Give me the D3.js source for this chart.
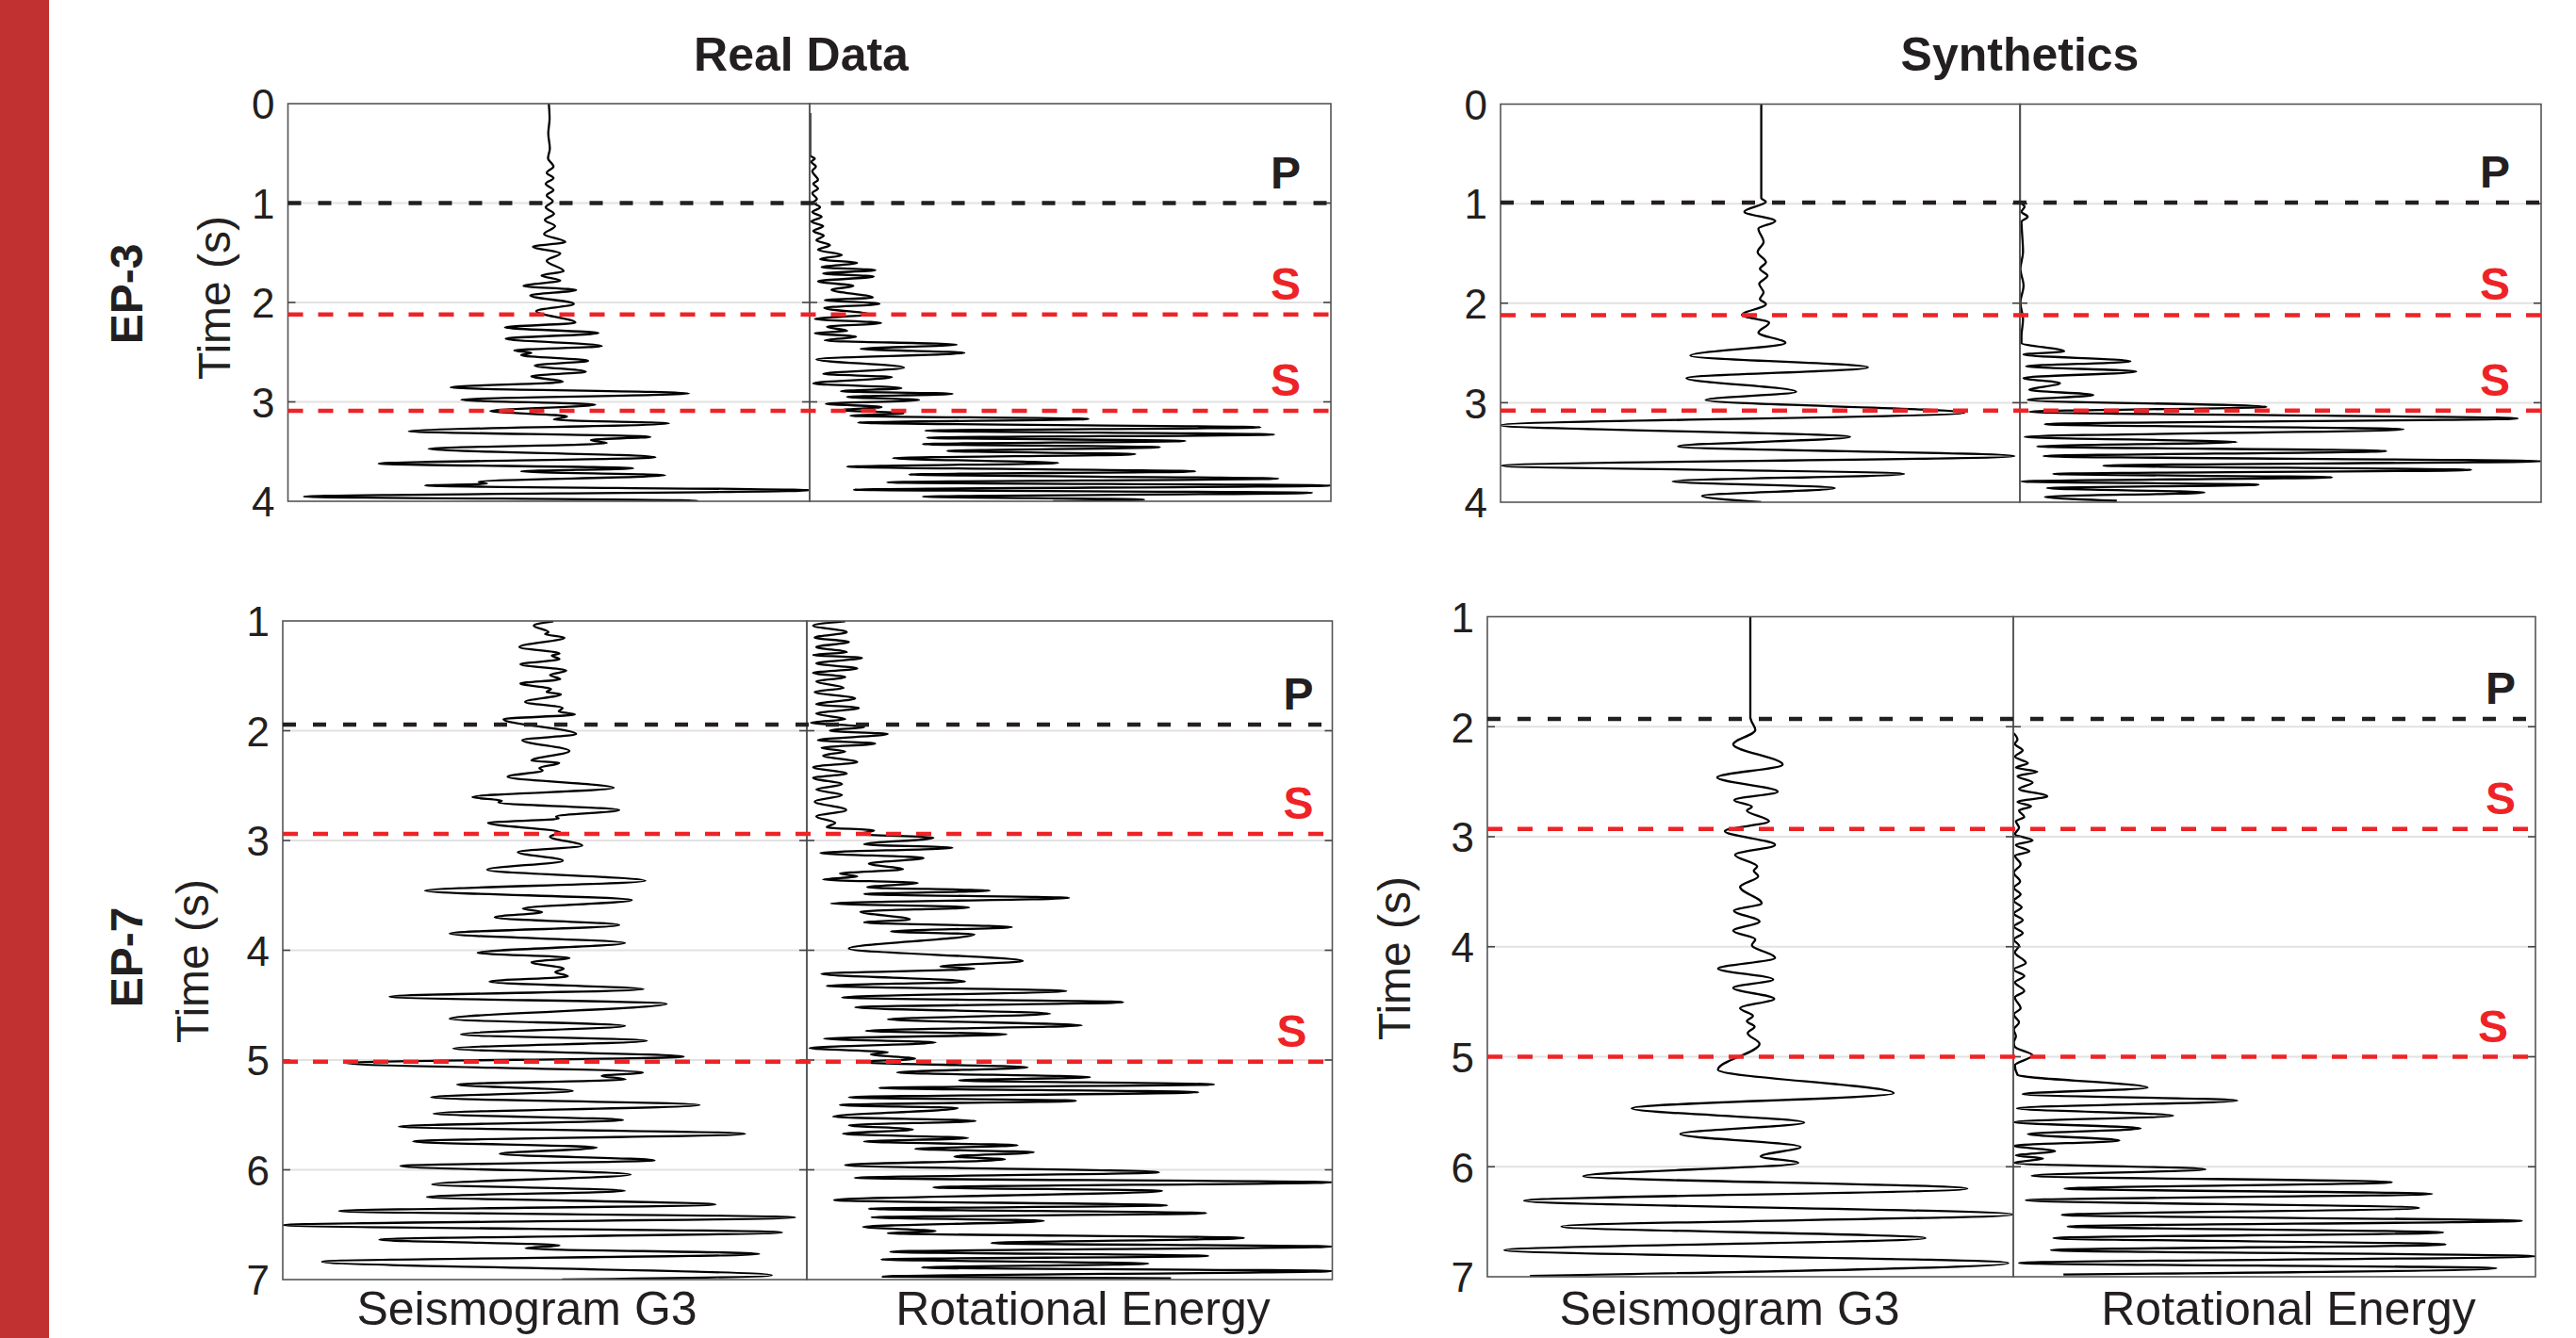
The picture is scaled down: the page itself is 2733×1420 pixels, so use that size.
<!DOCTYPE html>
<html><head><meta charset="utf-8">
<script src="https://cdn.jsdelivr.net/npm/d3@7"></script>
<style>
html,body{margin:0;padding:0;background:#fff;}
svg{display:block;font-family:"Liberation Sans",Arial,Helvetica,sans-serif;}
</style></head><body>
<svg id="chart" width="2733" height="1420"></svg>
<script>
// ---------------- DATA (time in s, amplitude normalised) ----------------
const columnTitles = ["Real Data", "Synthetics"];
const rowLabels = ["EP-3", "EP-7"];
const traceLabels = ["Seismogram G3", "Rotational Energy"];
const yAxisTitle = "Time (s)";
const ep3Ticks = [0, 1, 2, 3, 4];
const ep7Ticks = [1, 2, 3, 4, 5, 6, 7];

const ep3RealPhases = [{name:"P", t:1.0}, {name:"S", t:2.12}, {name:"S", t:3.09}];
const ep3SynthPhases = [{name:"P", t:0.99}, {name:"S", t:2.12}, {name:"S", t:3.08}];
const ep7RealPhases = [{name:"P", t:1.945}, {name:"S", t:2.94}, {name:"S", t:5.016}];
const ep7SynthPhases = [{name:"P", t:1.93}, {name:"S", t:2.93}, {name:"S", t:5.0}];

// seismogram amplitude: -1 .. 1 ; rotational energy: 0 .. 1
const ep3RealSeismogram = [[0,0],[0.15,0.003],[0.3,-0.002],[0.45,0.004],[0.55,-0.003],[0.632,0.018],[0.696,-0.008],[0.749,0.018],[0.806,-0.012],[0.870,0.018],[0.923,-0.008],[0.980,0.015],[1.043,-0.012],[1.107,0.020],[1.170,-0.015],[1.233,0.024],[1.312,-0.018],[1.391,0.063],[1.439,-0.061],[1.508,0.044],[1.581,-0.008],[1.685,0.057],[1.730,-0.028],[1.780,0.044],[1.834,-0.097],[1.875,0.105],[1.929,-0.071],[2.014,0.096],[2.087,-0.048],[2.204,0.102],[2.251,-0.168],[2.308,0.190],[2.365,-0.165],[2.438,0.203],[2.483,-0.132],[2.507,-0.067],[2.530,-0.106],[2.587,0.151],[2.634,-0.054],[2.697,0.142],[2.742,-0.067],[2.798,0.053],[2.855,-0.376],[2.915,0.537],[2.979,-0.335],[3.029,0.178],[3.092,-0.224],[3.146,0.070],[3.178,0.020],[3.216,0.461],[3.295,-0.537],[3.352,0.389],[3.383,0.161],[3.415,0.222],[3.472,-0.461],[3.557,0.409],[3.621,-0.652],[3.668,0.324],[3.700,-0.106],[3.738,0.446],[3.804,-0.269],[3.823,-0.237],[3.842,-0.474],[3.889,1.0],[3.953,-0.939],[3.994,0.570],[4.0,0.55]];
const ep3RealRotation = [[0.095,0.001],[0.522,0.001],[0.553,0.010],[0.585,0.003],[0.632,0.012],[0.680,0.005],[0.768,0.016],[0.806,0.007],[0.854,0.016],[0.901,0.005],[0.958,0.014],[0.996,0.007],[1.043,0.020],[1.091,0.005],[1.138,0.023],[1.186,0.003],[1.233,0.026],[1.281,0.007],[1.328,0.027],[1.375,0.013],[1.423,0.039],[1.470,0.016],[1.524,0.062],[1.565,0.020],[1.603,0.091],[1.644,0.023],[1.676,0.126],[1.708,0.026],[1.739,0.123],[1.787,0.016],[1.834,0.084],[1.872,0.042],[1.951,0.121],[1.976,0.029],[2.014,0.134],[2.055,0.028],[2.119,0.114],[2.166,0.010],[2.207,0.137],[2.245,0.033],[2.286,0.072],[2.308,0.010],[2.346,0.089],[2.381,0.029],[2.425,0.282],[2.466,0.098],[2.507,0.297],[2.571,0.013],[2.656,0.181],[2.719,0.026],[2.751,0.158],[2.814,0.007],[2.862,0.176],[2.893,0.060],[2.919,0.274],[2.950,0.072],[2.982,0.210],[3.020,0.031],[3.051,0.138],[3.083,0.062],[3.115,0.180],[3.140,0.078],[3.172,0.535],[3.209,0.093],[3.257,0.865],[3.289,0.222],[3.330,0.891],[3.361,0.225],[3.393,0.721],[3.425,0.217],[3.456,0.672],[3.494,0.264],[3.526,0.625],[3.567,0.160],[3.614,0.477],[3.652,0.072],[3.700,0.740],[3.731,0.191],[3.772,0.899],[3.810,0.149],[3.842,1.0],[3.883,0.085],[3.915,0.964],[3.953,0.217],[3.984,0.642],[4.0,0.467]];
const ep3SynthSeismogram = [[0,0.004],[0.946,0.004],[0.980,0.022],[1.081,-0.061],[1.176,0.058],[1.250,-0.007],[1.385,0.013],[1.486,-0.010],[1.588,0.022],[1.655,-0.001],[1.723,0.028],[1.807,-0.004],[1.892,0.013],[1.959,-0.001],[2.010,0.022],[2.118,-0.070],[2.196,0.034],[2.297,-0.007],[2.399,0.097],[2.527,-0.269],[2.645,0.415],[2.753,-0.284],[2.889,0.138],[2.973,-0.210],[3.101,0.786],[3.226,-1.0],[3.345,0.346],[3.439,-0.316],[3.537,0.979],[3.632,-0.994],[3.716,0.554],[3.791,-0.337],[3.858,0.287],[3.936,-0.224],[4.0,0.004]];
const ep3SynthRotation = [[0,0],[0.980,0],[1.030,0.009],[1.081,0.003],[1.132,0.015],[1.182,0.003],[1.284,0.004],[1.486,0.006],[1.655,0.001],[1.824,0.007],[1.993,0.001],[2.162,0.006],[2.331,0.003],[2.399,0.003],[2.483,0.085],[2.517,0.007],[2.584,0.212],[2.635,0.012],[2.686,0.223],[2.753,0.007],[2.804,0.077],[2.872,0.018],[2.922,0.141],[2.973,0.015],[3.041,0.473],[3.091,0.018],[3.159,0.955],[3.216,0.048],[3.267,0.736],[3.345,0.009],[3.395,0.416],[3.439,0.033],[3.486,0.703],[3.537,0.045],[3.588,1.0],[3.632,0.160],[3.676,0.866],[3.716,0.064],[3.750,0.599],[3.791,0.003],[3.824,0.458],[3.858,0.052],[3.902,0.354],[3.946,0.048],[3.986,0.186]];
const ep7RealSeismogram = [[1.004,0.033],[1.043,-0.042],[1.102,0.014],[1.121,0.001],[1.152,0.075],[1.238,-0.097],[1.297,0.056],[1.316,0.027],[1.348,0.056],[1.395,-0.093],[1.453,0.082],[1.492,0.020],[1.531,0.059],[1.570,-0.093],[1.621,0.024],[1.648,0.007],[1.668,0.062],[1.738,-0.075],[1.793,0.068],[1.824,0.053],[1.852,0.115],[1.895,-0.158],[2.031,0.120],[2.086,-0.086],[2.184,0.094],[2.273,-0.051],[2.293,0.055],[2.340,-0.021],[2.363,-0.008],[2.418,-0.142],[2.520,0.263],[2.605,-0.276],[2.637,-0.164],[2.652,-0.177],[2.723,0.284],[2.781,0.043],[2.801,0.053],[2.840,-0.217],[2.926,0.059],[2.965,0.020],[3.047,0.143],[3.105,-0.103],[3.184,0.069],[3.266,-0.220],[3.367,0.384],[3.457,-0.457],[3.543,0.332],[3.621,-0.084],[3.652,-0.010],[3.699,-0.191],[3.770,0.284],[3.848,-0.363],[3.934,0.306],[4.023,-0.256],[4.070,0.094],[4.109,-0.051],[4.168,0.072],[4.199,0.040],[4.238,0.088],[4.285,-0.211],[4.355,0.377],[4.422,-0.592],[4.488,0.465],[4.625,-0.363],[4.688,0.306],[4.766,-0.320],[4.824,0.390],[4.895,-0.350],[4.969,0.530],[5.027,-0.762],[5.113,0.374],[5.145,0.217],[5.176,0.308],[5.223,-0.334],[5.281,0.107],[5.340,-0.434],[5.410,0.591],[5.488,-0.425],[5.547,0.299],[5.605,-0.557],[5.672,0.764],[5.742,-0.502],[5.797,0.198],[5.855,-0.172],[5.914,0.419],[5.965,-0.551],[6.043,0.328],[6.133,-0.430],[6.191,0.306],[6.246,-0.450],[6.316,0.652],[6.375,-0.785],[6.434,0.955],[6.504,-1.0],[6.570,0.905],[6.637,-0.631],[6.688,0.056],[6.715,-0.073],[6.766,0.818],[6.836,-0.850],[6.961,0.866],[7.0,0.066]];
const ep7RealRotation = [[1.004,0.073],[1.043,0.012],[1.102,0.076],[1.152,0.015],[1.191,0.080],[1.238,0.018],[1.285,0.076],[1.309,0.012],[1.336,0.105],[1.387,0.018],[1.434,0.096],[1.473,0.012],[1.512,0.073],[1.551,0.018],[1.609,0.070],[1.648,0.015],[1.707,0.092],[1.758,0.018],[1.793,0.099],[1.844,0.018],[1.895,0.073],[1.926,0.008],[1.965,0.109],[2.0,0.044],[2.031,0.154],[2.086,0.021],[2.117,0.130],[2.156,0.028],[2.188,0.073],[2.227,0.031],[2.285,0.096],[2.332,0.012],[2.391,0.076],[2.430,0.012],[2.488,0.067],[2.535,0.018],[2.586,0.067],[2.645,0.015],[2.723,0.075],[2.781,0.018],[2.840,0.054],[2.879,0.038],[2.910,0.128],[2.941,0.099],[2.977,0.241],[3.035,0.109],[3.066,0.277],[3.113,0.026],[3.160,0.222],[3.211,0.118],[3.262,0.183],[3.301,0.063],[3.328,0.096],[3.355,0.031],[3.387,0.211],[3.426,0.115],[3.457,0.348],[3.488,0.109],[3.523,0.499],[3.574,0.046],[3.609,0.309],[3.648,0.102],[3.719,0.196],[3.746,0.109],[3.789,0.390],[3.828,0.160],[3.855,0.319],[3.984,0.080],[4.098,0.411],[4.148,0.254],[4.168,0.319],[4.215,0.028],[4.285,0.301],[4.324,0.038],[4.371,0.494],[4.430,0.067],[4.473,0.602],[4.520,0.092],[4.578,0.463],[4.629,0.154],[4.684,0.523],[4.734,0.112],[4.766,0.380],[4.805,0.033],[4.840,0.245],[4.891,0.005],[4.930,0.154],[4.949,0.122],[4.988,0.206],[5.020,0.099],[5.066,0.420],[5.113,0.172],[5.156,0.539],[5.184,0.290],[5.223,0.775],[5.254,0.138],[5.293,0.745],[5.340,0.080],[5.371,0.512],[5.410,0.063],[5.438,0.287],[5.516,0.050],[5.555,0.321],[5.594,0.080],[5.633,0.202],[5.672,0.069],[5.711,0.307],[5.742,0.109],[5.777,0.401],[5.809,0.206],[5.840,0.432],[5.879,0.281],[5.906,0.377],[5.957,0.073],[6.023,0.670],[6.074,0.091],[6.113,1.0],[6.160,0.241],[6.191,0.676],[6.277,0.052],[6.324,0.686],[6.355,0.118],[6.395,0.760],[6.434,0.123],[6.465,0.451],[6.520,0.107],[6.559,0.245],[6.578,0.154],[6.621,0.832],[6.668,0.351],[6.699,1.0],[6.746,0.159],[6.785,0.764],[6.816,0.142],[6.855,0.650],[6.891,0.219],[6.922,1.0],[6.973,0.144],[6.988,0.693]];
const ep7SynthSeismogram = [[1.0,0],[1.914,0],[1.941,0.003],[2.031,0.019],[2.160,-0.065],[2.344,0.123],[2.461,-0.126],[2.590,0.104],[2.668,-0.061],[2.727,0.006],[2.762,-0.013],[2.859,0.071],[2.949,-0.097],[3.074,0.094],[3.164,-0.058],[3.270,0.026],[3.309,0.013],[3.359,0.030],[3.457,-0.039],[3.605,0.043],[3.672,-0.062],[3.770,0.035],[3.855,-0.065],[3.934,0.019],[3.984,0.006],[4.102,0.094],[4.199,-0.123],[4.297,0.087],[4.375,-0.065],[4.473,0.091],[4.559,-0.039],[4.629,0.010],[4.676,-0.013],[4.727,0.016],[4.785,-0.010],[4.883,0.035],[5.117,-0.123],[5.332,0.545],[5.469,-0.451],[5.598,0.205],[5.703,-0.266],[5.820,0.191],[5.906,0.039],[5.965,0.182],[6.086,-0.635],[6.199,0.825],[6.309,-0.860],[6.434,1.0],[6.543,-0.718],[6.648,0.666],[6.758,-0.935],[6.875,0.981],[6.992,-0.838]];
const ep7SynthRotation = [[2.059,0.001],[2.117,0.008],[2.156,0.003],[2.215,0.018],[2.273,0.003],[2.332,0.028],[2.371,0.005],[2.410,0.046],[2.449,0.008],[2.508,0.037],[2.566,0.011],[2.633,0.065],[2.684,0.008],[2.723,0.034],[2.762,0.011],[2.820,0.021],[2.859,0.005],[2.918,0.011],[2.977,0.003],[3.035,0.037],[3.074,0.005],[3.133,0.031],[3.172,0.003],[3.250,0.014],[3.328,0.001],[3.406,0.013],[3.465,0.001],[3.523,0.014],[3.582,0.001],[3.641,0.016],[3.699,0.001],[3.758,0.018],[3.816,0.001],[3.875,0.018],[3.934,0.001],[3.992,0.011],[4.051,0.003],[4.148,0.024],[4.207,0.001],[4.266,0.021],[4.324,0.003],[4.402,0.021],[4.461,0.003],[4.559,0.014],[4.617,0.001],[4.688,0.011],[4.754,0.001],[4.813,0.005],[4.871,0.001],[4.910,0.003],[4.988,0.037],[5.078,0.003],[5.164,0.008],[5.281,0.257],[5.340,0.018],[5.398,0.429],[5.469,0.007],[5.535,0.306],[5.594,0.001],[5.652,0.244],[5.703,0.028],[5.762,0.203],[5.809,0.001],[5.859,0.080],[5.898,0.005],[5.926,0.057],[5.965,0.001],[6.023,0.368],[6.082,0.035],[6.141,0.725],[6.199,0.098],[6.246,0.802],[6.305,0.024],[6.375,0.777],[6.438,0.093],[6.492,0.974],[6.543,0.104],[6.598,0.823],[6.648,0.077],[6.707,0.828],[6.758,0.072],[6.813,1.0],[6.875,0.011],[6.922,0.925],[6.980,0.096]];

// ---------------- LAYOUT ----------------
const panels = [
  {id:"a", box:{x0:305.5, xm:859, x1:1412, y0:110, y1:532}, domain:[0,4], ticks:ep3Ticks,
   seis:ep3RealSeismogram, rot:ep3RealRotation, phases:ep3RealPhases, inset:[32,32,32],
   title:columnTitles[0], titleX:850, row:rowLabels[0], rowX:134, rowY:312, yLab:{x:227,y:316}, xLabels:null},
  {id:"b", box:{x0:1592, xm:2143, x1:2696, y0:110.5, y1:533}, domain:[0,4], ticks:ep3Ticks,
   seis:ep3SynthSeismogram, rot:ep3SynthRotation, phases:ep3SynthPhases, inset:[33,33,33],
   title:columnTitles[1], titleX:2143, row:null, yLab:null, xLabels:null},
  {id:"c", box:{x0:300, xm:856, x1:1413.5, y0:659, y1:1358}, domain:[1,7], ticks:ep7Ticks,
   seis:ep7RealSeismogram, rot:ep7RealRotation, phases:ep7RealPhases, inset:[20,20,27],
   title:null, row:rowLabels[1], rowX:134, rowY:1016, yLab:{x:204,y:1020}, xLabels:[559,1149]},
  {id:"d", box:{x0:1578, xm:2136, x1:2690, y0:654.5, y1:1355}, domain:[1,7], ticks:ep7Ticks,
   seis:ep7SynthSeismogram, rot:ep7SynthRotation, phases:ep7SynthPhases, inset:[21,21,29],
   title:null, row:null, yLab:{x:1479,y:1017}, xLabels:[1835,2428]}
];

const TXT = "#231f20";
const svg = d3.select("#chart");
svg.append("rect").attr("x",0).attr("y",0).attr("width",2733).attr("height",1420).attr("fill","#fff");
svg.append("rect").attr("x",0).attr("y",0).attr("width",52).attr("height",1420).attr("fill","#c13131");

panels.forEach(p => {
  const b = p.box;
  const y = d3.scaleLinear().domain(p.domain).range([b.y0, b.y1]);
  const xs = d3.scaleLinear().domain([-1, 1]).range([b.x0, b.xm]);
  const xr = d3.scaleLinear().domain([0, 1]).range([b.xm, b.x1]);
  const g = svg.append("g");

  // grid lines
  const inner = p.ticks.filter(t => t > p.domain[0] && t < p.domain[1]);
  g.append("g").selectAll("line").data(inner).join("line")
    .attr("x1", b.x0).attr("x2", b.x1).attr("y1", d => y(d)).attr("y2", d => y(d))
    .attr("stroke", "#e2e2e2").attr("stroke-width", 2);

  // clip paths
  const defs = svg.append("defs");
  defs.append("clipPath").attr("id","cs"+p.id).append("rect")
    .attr("x", b.x0).attr("y", b.y0).attr("width", b.xm - b.x0).attr("height", b.y1 - b.y0);
  defs.append("clipPath").attr("id","cr"+p.id).append("rect")
    .attr("x", b.xm).attr("y", b.y0).attr("width", b.x1 - b.xm).attr("height", b.y1 - b.y0);

  const lineS = d3.line().x(d => xs(d[1])).y(d => y(d[0])).curve(d3.curveMonotoneY);
  const lineR = d3.line().x(d => xr(d[1])).y(d => y(d[0])).curve(d3.curveMonotoneY);
  g.append("path").datum(p.seis).attr("d", lineS).attr("fill","none")
    .attr("stroke","#000").attr("stroke-width",2.3).attr("stroke-linejoin","round")
    .attr("clip-path","url(#cs"+p.id+")");
  g.append("path").datum(p.rot).attr("d", lineR).attr("fill","none")
    .attr("stroke","#000").attr("stroke-width",2.3).attr("stroke-linejoin","round")
    .attr("clip-path","url(#cr"+p.id+")");

  // frames
  [[b.x0,b.xm],[b.xm,b.x1]].forEach(([a,c]) => {
    g.append("rect").attr("x",a).attr("y",b.y0).attr("width",c-a).attr("height",b.y1-b.y0)
      .attr("fill","none").attr("stroke","#555").attr("stroke-width",1.6);
  });
  // inward ticks
  const tickLen = 8;
  const tg = g.append("g").attr("stroke","#444").attr("stroke-width",1.6);
  inner.forEach(t => {
    [[b.x0, 1],[b.xm,-1],[b.xm,1],[b.x1,-1]].forEach(([x0,dir]) => {
      tg.append("line").attr("x1",x0).attr("x2",x0+dir*tickLen).attr("y1",y(t)).attr("y2",y(t));
    });
  });

  // phase dashed lines + labels
  p.phases.forEach((ph, i) => {
    const col = ph.name === "P" ? "#231f20" : "#ee2326";
    g.append("line").attr("x1", b.x0).attr("x2", b.x1).attr("y1", y(ph.t)).attr("y2", y(ph.t))
      .attr("stroke", col).attr("stroke-width", 4.5)
      .attr("stroke-dasharray", ph.name === "P" ? "14,18" : "16,16");
    g.append("text").attr("x", b.x1 - p.inset[i]).attr("y", y(ph.t) - 16)
      .attr("text-anchor","end").attr("font-size",48).attr("font-weight","bold")
      .attr("fill", col).text(ph.name);
  });

  // y axis labels
  const ax = g.append("g").attr("transform", `translate(${b.x0},0)`)
    .call(d3.axisLeft(y).tickValues(p.ticks).tickSize(0).tickPadding(14).tickFormat(d3.format("d")));
  ax.select(".domain").remove();
  ax.attr("font-family", null).attr("font-size", null);
  ax.selectAll("text").attr("font-size", 44).attr("fill", TXT).attr("dy","0.36em");

  if (p.title) {
    svg.append("text").attr("x", p.titleX).attr("y", 75).attr("text-anchor","middle")
      .attr("font-size",50).attr("font-weight","bold").attr("fill",TXT).text(p.title);
  }
  if (p.row) {
    svg.append("text").attr("transform",`translate(${p.rowX},${p.rowY}) rotate(-90)`)
      .attr("text-anchor","middle").attr("dy","0.36em")
      .attr("font-size",48).attr("font-weight","bold").attr("fill",TXT).text(p.row);
  }
  if (p.yLab) {
    svg.append("text").attr("transform",`translate(${p.yLab.x},${p.yLab.y}) rotate(-90)`)
      .attr("text-anchor","middle").attr("dy","0.36em")
      .attr("font-size",48).attr("fill",TXT).text(yAxisTitle);
  }
  if (p.xLabels) {
    p.xLabels.forEach((x, i) => {
      svg.append("text").attr("x", x).attr("y", 1406).attr("text-anchor","middle")
        .attr("font-size",50).attr("fill",TXT).text(traceLabels[i]);
    });
  }
});
</script>
</body></html>
